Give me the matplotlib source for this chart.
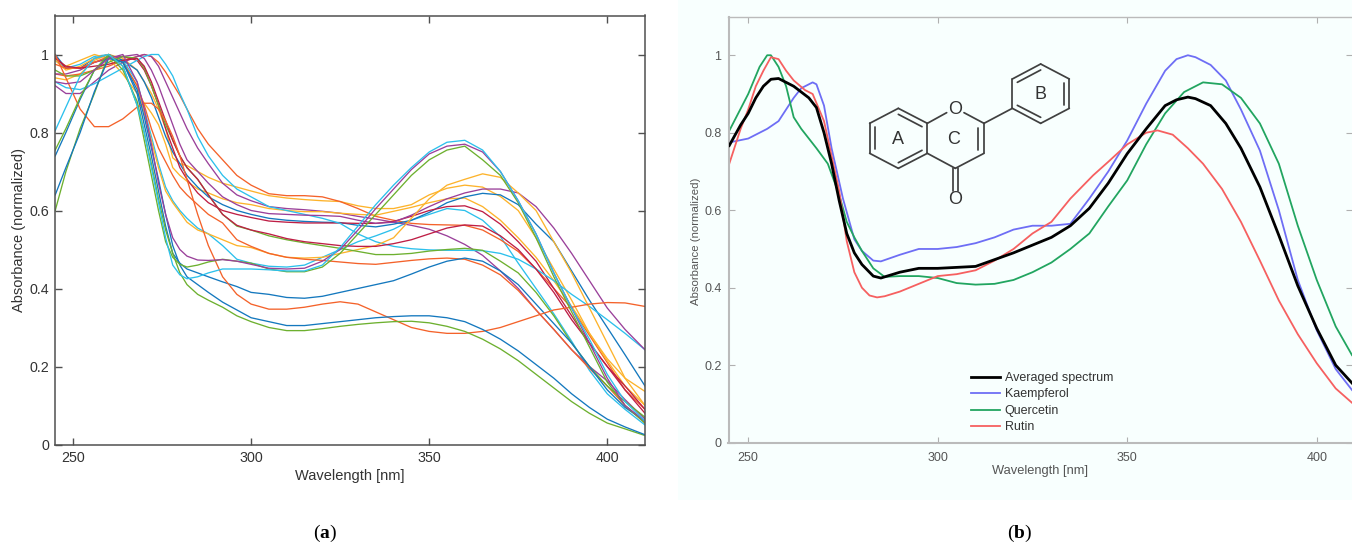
import matplotlib
matplotlib.use("Agg")
import matplotlib.pyplot as plt
from matplotlib.patches import Rectangle

plt.rcParams['font.family'] = ['Liberation Sans', 'DejaVu Sans']
plt.rcParams['mathtext.fontset'] = 'custom'
plt.rcParams['mathtext.bf'] = 'Liberation Serif:bold'
plt.rcParams['mathtext.rm'] = 'Liberation Serif'

xticks = [250, 300, 350, 400]
yticks = [0, 0.2, 0.4, 0.6, 0.8, 1]
ytick_labels = ['0', '0.2', '0.4', '0.6', '0.8', '1']
xlabel = 'Wavelength [nm]'
ylabel = 'Absorbance (normalized)'

# ---- panel (a)
wl_a = [245,248,252,256,260,264,268,270,272,274,276,278,280,282,285,288,292,296,
        300,305,310,315,320,325,330,335,340,345,350,355,360,365,370,375,380,385,390,395,400,405,410.6]

BLUE = '#1478BE'; ORANGE = '#F4622A'; YELLOW = '#FDB32B'; PURPLE = '#9A409A'
GREEN = '#6DB02F'; CYAN = '#2CC0EC'; CRIMSON = '#BE1E45'

c1 = [.805,.865,.945,.99,1.0,.97,.87,.80,.71,.62,.53,.46,.435,.425,.43,.44,.45,.45,
      .45,.448,.445,.445,.46,.505,.56,.615,.665,.71,.75,.775,.78,.755,.70,.625,.54,.44,.35,.27,.18,.11,.06]
p1 = [.93,.925,.93,.96,.99,1.0,.93,.86,.77,.67,.59,.53,.50,.483,.473,.472,.474,.47,
      .462,.452,.45,.452,.47,.50,.55,.605,.655,.705,.745,.765,.77,.75,.70,.625,.54,.44,.35,.26,.17,.10,.06]
g1 = [.755,.81,.89,.96,1.0,.97,.87,.78,.69,.60,.52,.48,.462,.455,.46,.468,.475,.47,
      .465,.45,.443,.443,.455,.49,.54,.59,.64,.69,.73,.755,.765,.73,.69,.62,.53,.43,.34,.25,.16,.10,.055]
b1 = [.64,.71,.80,.905,.99,.98,.91,.84,.76,.68,.59,.51,.46,.43,.41,.39,.365,.345,
      .325,.315,.305,.305,.31,.315,.32,.325,.328,.33,.33,.325,.315,.295,.27,.24,.205,.17,.13,.095,.065,.045,.025]
g3 = [.60,.70,.81,.90,1.0,.96,.88,.80,.72,.63,.55,.49,.44,.41,.385,.37,.352,.33,
      .315,.30,.292,.292,.297,.303,.308,.312,.315,.316,.312,.303,.29,.27,.245,.215,.18,.145,.11,.08,.055,.04,.023]
b2 = [.74,.80,.885,.96,.995,.98,.90,.82,.74,.65,.56,.49,.465,.45,.44,.43,.417,.405,
      .39,.385,.377,.375,.38,.39,.40,.41,.42,.437,.455,.47,.478,.47,.445,.41,.36,.31,.26,.20,.14,.095,.06]
o3 = [1.0,.94,.86,.815,.815,.835,.865,.875,.875,.86,.83,.79,.74,.68,.59,.51,.43,.385,
      .36,.347,.347,.352,.36,.366,.36,.34,.32,.30,.29,.285,.285,.29,.30,.315,.33,.345,.352,.36,.364,.363,.354]
o1 = [.95,.945,.95,.96,.97,.985,.995,1.0,.995,.98,.955,.925,.895,.86,.81,.77,.73,.69,
      .665,.643,.638,.638,.635,.623,.605,.585,.575,.567,.564,.563,.562,.55,.525,.495,.45,.40,.35,.28,.21,.14,.09]
o2 = [.975,.965,.965,.98,.995,.98,.92,.87,.81,.76,.725,.69,.66,.64,.615,.59,.568,.525,
      .508,.49,.48,.475,.472,.468,.464,.462,.467,.472,.476,.478,.475,.46,.435,.395,.345,.295,.243,.195,.15,.10,.055]
y1 = [.985,.96,.97,.99,1.0,.98,.92,.85,.78,.71,.65,.62,.595,.57,.55,.54,.525,.51,
      .505,.49,.48,.478,.48,.49,.50,.51,.53,.58,.63,.665,.68,.694,.685,.645,.60,.52,.44,.35,.26,.17,.10]
y2 = [.94,.935,.95,.985,1.0,.99,.96,.93,.90,.86,.81,.735,.72,.715,.70,.685,.67,.66,
      .65,.638,.632,.628,.625,.623,.612,.605,.605,.615,.64,.657,.665,.66,.636,.60,.53,.45,.37,.285,.22,.17,.136]
y3 = [.99,.97,.985,1.0,.99,.95,.90,.875,.85,.82,.77,.71,.69,.675,.655,.645,.63,.62,
      .615,.605,.60,.597,.597,.593,.59,.588,.598,.608,.62,.63,.632,.61,.575,.53,.48,.42,.354,.285,.215,.15,.10]
c3 = [.93,.915,.91,.925,.945,.965,.985,.995,1.0,1.0,.975,.945,.90,.86,.79,.74,.69,.655,
      .635,.61,.60,.59,.58,.567,.54,.52,.508,.502,.499,.498,.498,.497,.49,.475,.45,.42,.385,.354,.32,.285,.243]
c2 = [.985,.965,.975,.995,1.0,.985,.93,.86,.79,.72,.66,.625,.60,.58,.555,.54,.51,.475,
      .465,.457,.455,.46,.48,.50,.52,.535,.552,.575,.59,.605,.60,.575,.533,.465,.40,.335,.265,.19,.13,.09,.05]
p2 = [.92,.90,.90,.93,.96,.98,.995,1.0,.995,.97,.93,.89,.85,.81,.76,.72,.67,.64,
      .625,.61,.605,.602,.598,.593,.585,.578,.57,.562,.552,.535,.513,.485,.445,.40,.345,.295,.243,.20,.163,.115,.065]
p3 = [.95,.95,.96,.98,.99,.995,1.0,.99,.96,.92,.87,.82,.77,.73,.70,.67,.635,.615,
      .60,.592,.59,.588,.587,.585,.575,.567,.57,.588,.61,.63,.645,.655,.655,.645,.61,.555,.49,.42,.35,.295,.243]
b3 = [1.0,.965,.965,.99,1.0,.985,.96,.93,.89,.84,.79,.75,.72,.69,.66,.635,.615,.60,
      .59,.58,.575,.572,.57,.569,.562,.558,.565,.575,.595,.62,.635,.644,.64,.615,.565,.52,.445,.37,.30,.23,.15]
r1 = [.995,.965,.965,.98,.99,.995,.985,.96,.92,.87,.81,.76,.71,.68,.645,.62,.60,.59,
      .582,.573,.57,.568,.568,.568,.567,.567,.572,.585,.60,.61,.612,.597,.565,.52,.47,.40,.33,.26,.20,.15,.09]
r2 = [.99,.97,.965,.97,.975,.985,.99,.97,.93,.88,.83,.78,.74,.71,.68,.64,.59,.562,
      .55,.54,.528,.52,.515,.51,.508,.508,.515,.525,.54,.555,.563,.56,.535,.50,.45,.39,.32,.26,.20,.14,.08]
g2 = [.96,.945,.945,.96,.98,.995,.99,.965,.92,.87,.82,.78,.74,.71,.68,.64,.59,.56,
      .55,.535,.525,.517,.51,.503,.495,.487,.487,.49,.496,.50,.503,.498,.47,.44,.39,.33,.26,.20,.15,.11,.07]

series_a = [(c2, CYAN), (y2, YELLOW), (o1, ORANGE), (p2, PURPLE), (y3, YELLOW), (b3, BLUE), (r1, CRIMSON),
            (c3, CYAN), (p3, PURPLE), (y1, YELLOW), (o2, ORANGE), (g2, GREEN), (r2, CRIMSON), (b2, BLUE),
            (o3, ORANGE), (g3, GREEN), (b1, BLUE), (g1, GREEN), (p1, PURPLE), (c1, CYAN)]

# ---- panel (b)
wl_avg = [245,248,250,252,254,256,258,260,262,264,266,268,270,272,274,276,278,280,283,285,290,295,300,310,320,330,335,340,345,350,355,360,363,366,368,372,376,380,385,390,395,400,405,409.3]
avg = [.767,.82,.85,.89,.92,.938,.94,.93,.92,.905,.89,.865,.80,.72,.625,.54,.49,.46,.43,.425,.44,.45,.45,.455,.49,.53,.56,.605,.67,.746,.81,.87,.885,.892,.888,.87,.824,.76,.66,.535,.405,.295,.20,.154]
wl_kae = [245,250,255,258,260,262,264,266,267,268,270,272,275,278,280,283,285,290,295,300,305,310,315,320,325,330,335,340,345,350,355,360,363,366,368,372,376,380,385,390,395,400,405,409.3]
kae = [.775,.785,.81,.83,.86,.89,.915,.925,.93,.925,.87,.76,.63,.525,.495,.47,.468,.485,.50,.50,.505,.515,.53,.55,.56,.56,.565,.63,.70,.78,.875,.96,.99,1.0,.995,.975,.935,.86,.754,.60,.42,.29,.19,.136]
wl_que = [245,250,253,255,256,258,260,262,264,266,268,271,274,276,278,280,283,286,290,295,300,305,310,315,320,325,330,335,340,345,350,355,360,365,370,375,380,385,390,395,400,405,409.3]
que = [.805,.90,.97,1.0,1.0,.97,.92,.84,.81,.785,.76,.72,.64,.57,.53,.495,.45,.428,.43,.43,.425,.412,.408,.41,.42,.44,.465,.50,.54,.61,.677,.77,.85,.905,.93,.925,.89,.824,.72,.56,.42,.30,.226]
wl_rut = [245,248,250,252,254,256,258,260,262,265,267,270,272,274,276,278,280,282,284,286,290,295,300,305,310,315,320,325,330,335,340,341,345,350,355,358,362,366,370,375,380,385,390,395,400,405,409.3]
rut = [.72,.81,.86,.92,.96,.995,.99,.96,.935,.91,.90,.83,.74,.65,.52,.44,.40,.38,.375,.378,.39,.41,.43,.435,.445,.47,.50,.54,.57,.63,.68,.69,.725,.77,.80,.806,.795,.76,.72,.655,.57,.47,.367,.28,.205,.14,.103]
legend_labels = ['Averaged spectrum', 'Kaempferol', 'Quercetin', 'Rutin']

W, H = 1352, 544
fig = plt.figure(figsize=(W/100, H/100), dpi=100, facecolor='white')

def axes_px(x0, x1, ytop, ybot, **kw):
    return fig.add_axes([x0/W, 1-ybot/H, (x1-x0)/W, (ybot-ytop)/H], **kw)

bg = fig.add_axes([0, 0, 1, 1], zorder=0)
bg.set_xlim(0, W); bg.set_ylim(H, 0); bg.axis('off')
bg.add_patch(Rectangle((678, 0), W-678, 500, fc='#F8FFFE', ec='none'))

# panel a
ax = axes_px(54.5, 645, 15.5, 444.5, zorder=1)
for vals, col in series_a:
    ax.plot(wl_a, vals, color=col, lw=0.95, solid_joinstyle='round')
ax.set_xlim(244.8, 410.6); ax.set_ylim(0, 1.1)
ax.set_xticks(xticks); ax.set_yticks(yticks); ax.set_yticklabels(ytick_labels)
ax.tick_params(direction='in', top=True, right=True, length=5, width=1, color='#505050',
               labelsize=10.3, labelcolor='#333333', pad=5)
ax.tick_params(axis='y', pad=4)
for s in ax.spines.values():
    s.set_color('#505050'); s.set_linewidth(1.1)
ax.set_xlabel(xlabel, fontsize=10.5, color='#333333', va='center')
ax.set_ylabel(ylabel, fontsize=10.5, color='#333333', va='center')
ax.xaxis.set_label_coords((349.5-54.5)/590.5, -(476-444.5)/429)
ax.yaxis.set_label_coords((19-54.5)/590.5, 0.5)

# panel b
bx = axes_px(728.5, 1352, 16.5, 442.7, zorder=1)
bx.patch.set_alpha(0)
l0, = bx.plot(wl_avg, avg, color='#000000', lw=2.0, zorder=5)
l1, = bx.plot(wl_kae, kae, color='#6E6EF5', lw=1.3)
l2, = bx.plot(wl_que, que, color='#22A560', lw=1.3)
l3, = bx.plot(wl_rut, rut, color='#F66060', lw=1.3)
bx.set_xlim(244.8, 409.3); bx.set_ylim(0, 1.1)
bx.set_xticks(xticks); bx.set_yticks(yticks); bx.set_yticklabels(ytick_labels)
bx.tick_params(direction='in', top=True, right=True, length=4.5, width=0.8, color='#B0B0B0',
               labelsize=9, labelcolor='#555555', pad=7)
bx.tick_params(axis='y', pad=5)
bx.spines['right'].set_visible(False)
for k in ('left', 'bottom', 'top'):
    bx.spines[k].set_color('#BBBBBB')
bx.spines['left'].set_linewidth(1.5); bx.spines['bottom'].set_linewidth(1.5); bx.spines['top'].set_linewidth(1)
bx.set_xlabel(xlabel, fontsize=9.3, color='#555555', va='center')
bx.set_ylabel(ylabel, fontsize=8.2, color='#555555', va='center')
bx.xaxis.set_label_coords((1040-728.5)/623.5, -(471-442.7)/426.2)
bx.yaxis.set_label_coords((696-728.5)/623.5, 1-(241-16.5)/426.2)
leg = bx.legend([l0, l1, l2, l3], legend_labels, frameon=False, fontsize=9,
                loc='upper left', bbox_to_anchor=((971-728.5)/623.5, 1-(372-16.5)/426.2),
                handlelength=2.35, handletextpad=0.35, labelspacing=0.36, borderpad=0, borderaxespad=0,
                labelcolor='#333333')

# flavone structure, in reference pixels
ov = fig.add_axes([0, 0, 1, 1], zorder=3)
ov.set_xlim(0, W); ov.set_ylim(H, 0); ov.axis('off')
def px(zx, zy):
    return 680+zx/3, zy/3
bonds = [((569,370),(655,325)),((655,325),(742,370)),((742,370),(742,460)),((742,460),(655,505)),((655,505),(569,460)),((569,460),(569,370)),
         ((742,370),(800,338)),((852,338),(912,370)),((912,370),(912,460)),((912,460),(826,505)),((826,505),(742,460)),
         ((997,237),(1082,192)),((1082,192),(1168,237)),((1168,237),(1168,325)),((1168,325),(1082,370)),((1082,370),(997,325)),((997,325),(997,237)),
         ((912,370),(997,325)),
         ((586,382),(586,448)),((655,343),(726,380)),((655,488),(726,451)),((895,385),(895,450)),
         ((1151,248),(1151,314)),((1012,247),(1082,210)),((1012,316),(1082,352)),
         ((818,505),(818,572)),((834,505),(834,572))]
for a, b in bonds:
    xa, ya = px(*a); xb, yb = px(*b)
    ov.plot([xa, xb], [ya, yb], color='#404040', lw=1.25, solid_capstyle='round')
for s, zx, zy in [('O', 826, 328), ('O', 826, 598), ('A', 655, 417), ('C', 822, 417), ('B', 1082, 283)]:
    x, y = px(zx, zy)
    ov.text(x, y, s, ha='center', va='center', fontsize=13, color='#333333')

# captions
for s, x in [(r'($\mathbf{a}$)', 325), (r'($\mathbf{b}$)', 1020)]:
    ov.text(x, 533, s, ha='center', va='center', fontsize=14, family='Liberation Serif', color='black')

fig.savefig('out.png', dpi=100)
